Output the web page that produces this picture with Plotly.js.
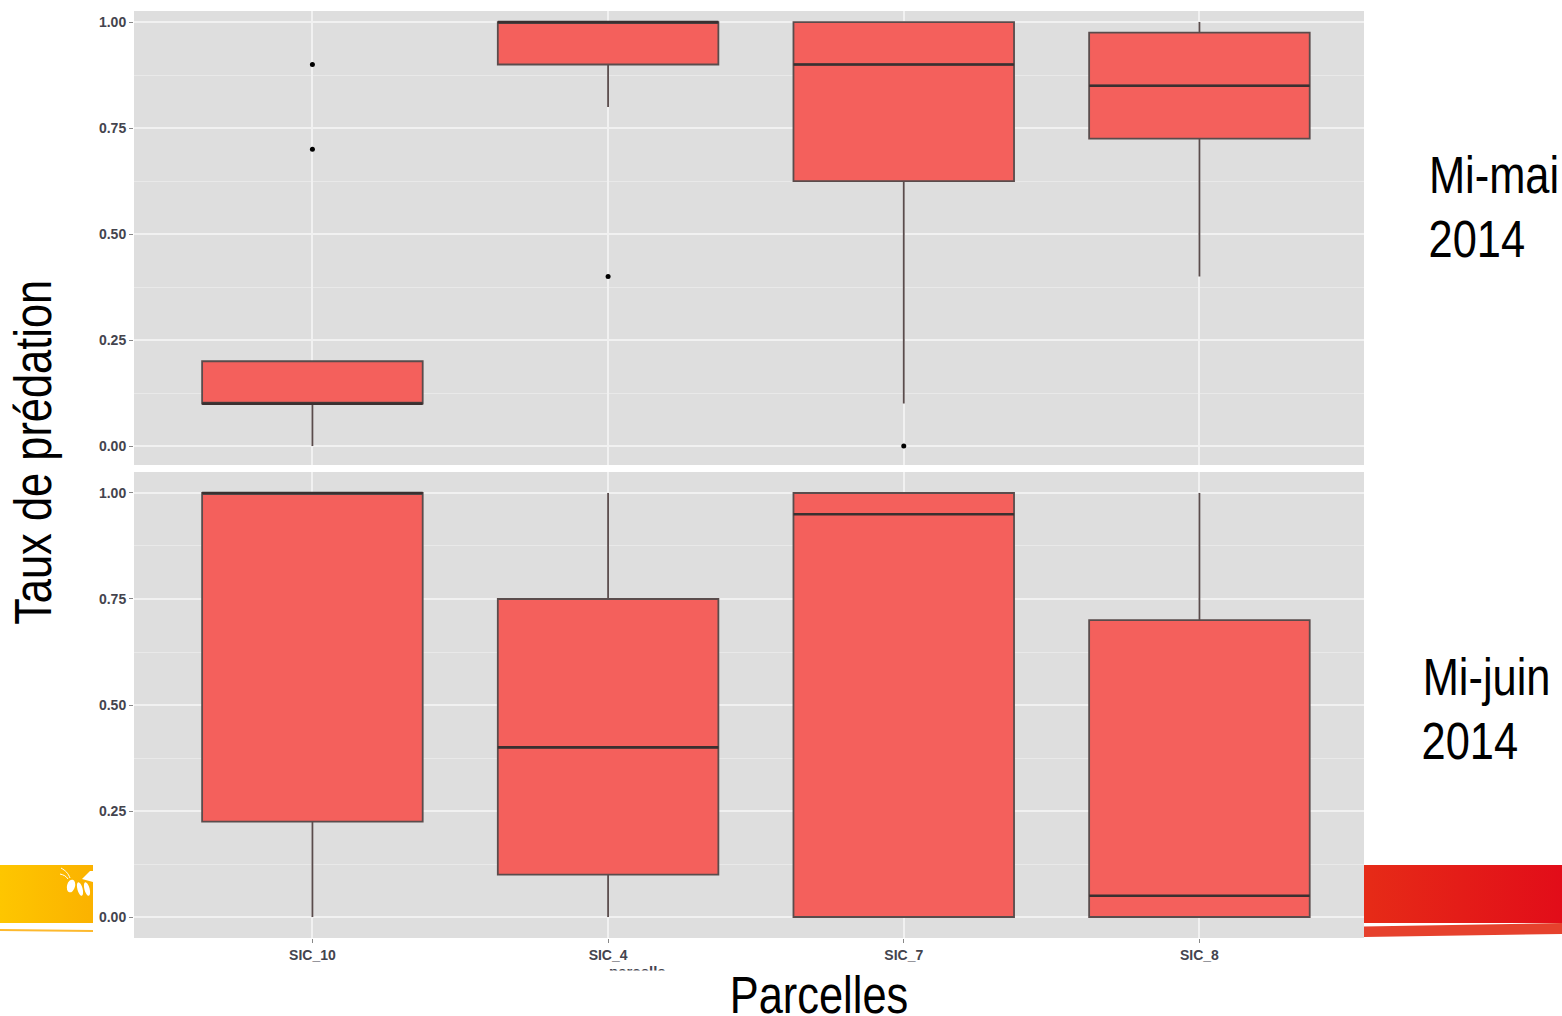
<!DOCTYPE html>
<html>
<head>
<meta charset="utf-8">
<script src="https://cdn.plot.ly/plotly-3.0.1.min.js"></script>
<style>
html,body{margin:0;padding:0;background:#fff;overflow:hidden}
#deco{position:absolute;left:0;top:0;width:1562px;height:1016px;z-index:0}
#plot{position:absolute;left:0;top:0;width:1562px;height:1016px;z-index:1}
#plot text.annotation-text{transform-box:fill-box;transform-origin:center;}
</style>
</head>
<body>
<svg id="deco" width="1562" height="1016" xmlns="http://www.w3.org/2000/svg">
  <defs>
    <linearGradient id="gy" x1="0" x2="1" y1="0" y2="0"><stop offset="0" stop-color="#fec600"/><stop offset="1" stop-color="#fbb200"/></linearGradient>
    <linearGradient id="gr" x1="0" x2="1" y1="0" y2="0"><stop offset="0" stop-color="#e62b17"/><stop offset="1" stop-color="#e20d19"/></linearGradient>
  </defs>
  <rect x="0" y="865" width="93" height="58" fill="url(#gy)"/>
  <polygon points="0,929 93,930 93,932 0,931" fill="#fdb92e"/>
  <g fill="#fff" stroke="none">
    <ellipse cx="71" cy="886" rx="4" ry="6.5" transform="rotate(15 71 886)"/>
    <ellipse cx="80" cy="889" rx="2.6" ry="7" transform="rotate(-15 80 889)"/>
    <ellipse cx="87" cy="889" rx="2.6" ry="7" transform="rotate(-15 87 889)"/>
    <polygon points="82,879 90,871 93,871 93,882"/>
  </g>
  <path d="M70 878 C68 873 66 871 61 868 M68 879 C66 876 64 875 60 874" stroke="#fff" stroke-width="1" fill="none"/>
  <rect x="1364" y="865" width="198" height="58" fill="url(#gr)"/>
  <polygon points="1364,926.5 1562,923 1562,934 1364,937" fill="#e6412d"/>
</svg>
<div id="plot"></div>
<script>
var categories = ["SIC_10", "SIC_4", "SIC_7", "SIC_8"];

// Mi-mai 2014
var mai_low    = [0.00, 0.80, 0.10, 0.40];
var mai_q1     = [0.10, 0.90, 0.625, 0.725];
var mai_median = [0.10, 1.00, 0.90, 0.85];
var mai_q3     = [0.20, 1.00, 1.00, 0.975];
var mai_high   = [0.20, 1.00, 1.00, 1.00];
var mai_out_x  = ["SIC_10", "SIC_10", "SIC_4", "SIC_7"];
var mai_out_y  = [0.90, 0.70, 0.40, 0.00];

// Mi-juin 2014
var juin_low    = [0.00, 0.00, 0.00, 0.00];
var juin_q1     = [0.225, 0.10, 0.00, 0.00];
var juin_median = [1.00, 0.40, 0.95, 0.05];
var juin_q3     = [1.00, 0.75, 1.00, 0.70];
var juin_high   = [1.00, 1.00, 1.00, 1.00];

var yTicks = [0, 0.25, 0.5, 0.75, 1];
var yTickLabels = ["0.00", "0.25", "0.50", "0.75", "1.00"];

var W = 1562, H = 1016;
var fill = "#f4605c", edge = "#5a4c4c", grid = "#f1f1f1", panel = "#dedede";
var bigFont = {family: "'Liberation Sans',Arial,sans-serif", size: 52, color: "#000"};
var tickFont = {family: "'Liberation Sans',Arial,sans-serif", size: 14, color: "#44444e", weight: 700};

function boxes(ya, low, q1, med, q3, high) {
  return [{
    type: "box", x: categories, xaxis: "x", yaxis: ya,
    lowerfence: low, q1: q1, median: med, q3: q3, upperfence: high,
    width: 0.746, whiskerwidth: 0, boxpoints: false,
    fillcolor: fill, line: {color: edge, width: 1.8}, hoverinfo: "skip"
  }, {
    type: "box", x: categories, xaxis: "x", yaxis: ya,
    lowerfence: med, q1: med, median: med, q3: med, upperfence: med,
    width: 0.746, whiskerwidth: 0, boxpoints: false,
    fillcolor: "rgba(0,0,0,0)", line: {color: "#3a3030", width: 2.6}, hoverinfo: "skip"
  }];
}

var traces = []
  .concat(boxes("y", mai_low, mai_q1, mai_median, mai_q3, mai_high))
  .concat(boxes("y2", juin_low, juin_q1, juin_median, juin_q3, juin_high));

traces.push({
  type: "scatter", mode: "markers", x: mai_out_x, y: mai_out_y, xaxis: "x", yaxis: "y",
  marker: {color: "#000", size: 5}, hoverinfo: "skip"
});

function yAxis(top, bottom, range) {
  return {
    domain: [1 - bottom / H, 1 - top / H], range: range, autorange: false,
    tickmode: "array", tickvals: yTicks, ticktext: yTickLabels,
    ticks: "outside", ticklen: 4, tickwidth: 1, tickcolor: "#888",
    tickfont: tickFont, showgrid: true, gridcolor: grid, gridwidth: 2, zeroline: false,
    minor: {tick0: 0, dtick: 0.125, showgrid: true, gridcolor: "#e9e9e9", gridwidth: 1, ticks: ""},
    showline: false
  };
}

function note(cx, cy, text, extra) {
  return Object.assign({
    xref: "paper", yref: "paper", x: cx / W, y: 1 - cy / H,
    xanchor: "center", yanchor: "middle", text: text, showarrow: false, font: bigFont
  }, extra || {});
}

var layout = {
  width: W, height: H, autosize: false,
  margin: {l: 0, r: 0, t: 0, b: 0, pad: 0},
  paper_bgcolor: "rgba(0,0,0,0)", plot_bgcolor: panel,
  showlegend: false, boxmode: "overlay",
  xaxis: {
    domain: [134 / W, 1364 / W], range: [-0.6034, 3.5566], autorange: false,
    type: "category", categoryorder: "array", categoryarray: categories,
    anchor: "y2", ticks: "outside", ticklen: 4, tickwidth: 1, tickcolor: "#888",
    tickfont: tickFont, showgrid: true, gridcolor: grid, gridwidth: 2, zeroline: false
  },
  yaxis: yAxis(11, 465, [-0.0448, 1.0262]),
  yaxis2: yAxis(472, 938, [-0.0495, 1.0495]),
  annotations: [
    note(637, 971, "parcelle", {font: {family: tickFont.family, size: 15, color: "#44444e", weight: 700}}),
    note(819, 994, "Parcelles", {width: 520, height: 45, bgcolor: "#fff", valign: "middle", align: "center"}),
    note(33, 453, "Taux de prédation", {textangle: -90}),
    note(1494, 175, "Mi-mai"),
    note(1477, 239, "2014"),
    note(1486, 677, "Mi-juin"),
    note(1470, 741, "2014")
  ]
};

Plotly.newPlot("plot", traces, layout, {displayModeBar: false, staticPlot: true}).then(function () {
  // The reference's large labels are horizontally condensed
  document.querySelectorAll("#plot text.annotation-text").forEach(function (t) {
    if (t.textContent !== "parcelle") t.style.transform = "scaleX(0.835)";
  });
});
</script>
</body>
</html>
